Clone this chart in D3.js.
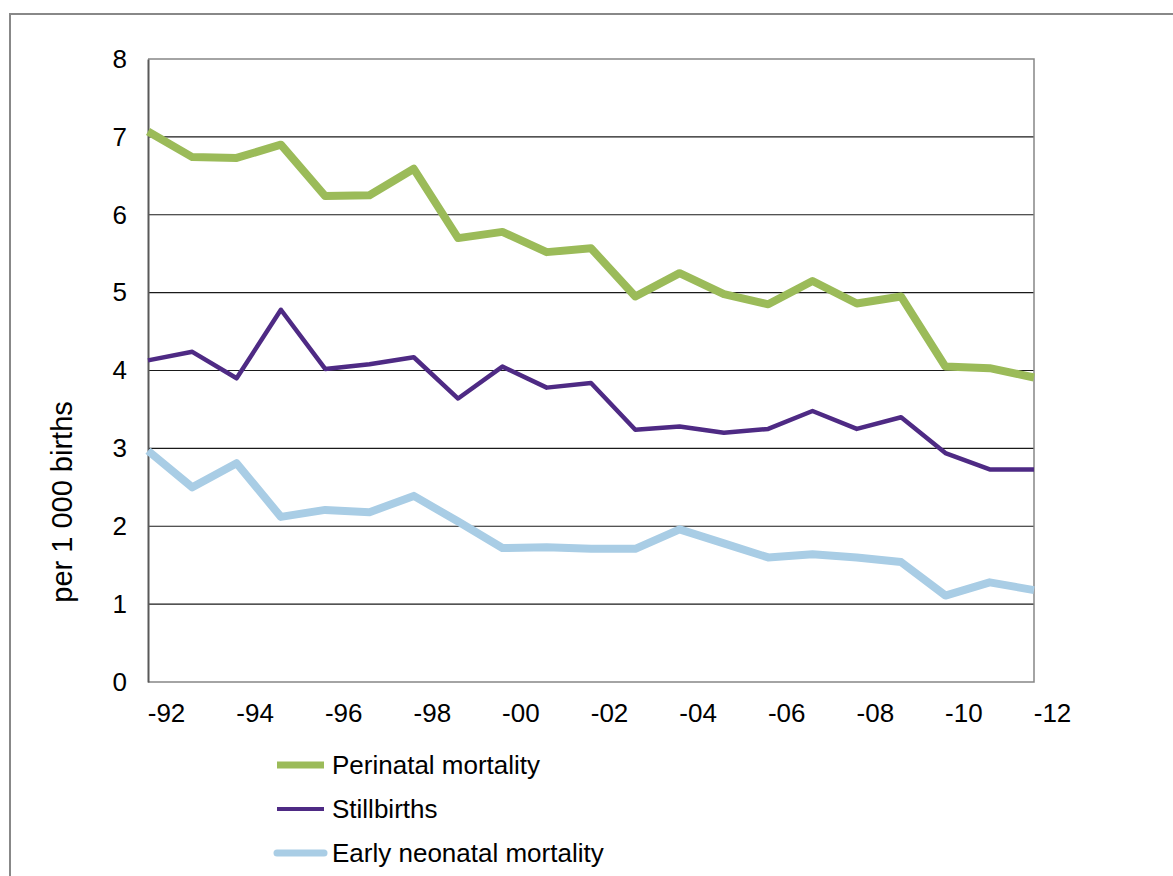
<!DOCTYPE html>
<html>
<head>
<meta charset="utf-8">
<script src="https://cdn.jsdelivr.net/npm/d3@7"></script>
<style>
  body { margin: 0; background: #fff; }
  svg { display: block; font-family: "Liberation Sans", Arial, sans-serif; }
</style>
</head>
<body>
<div id="chart"></div>
<script>
// data
const years = d3.range(1992, 2013);
const tickYears = [1992, 1994, 1996, 1998, 2000, 2002, 2004, 2006, 2008, 2010, 2012];
const tickLabels = ["-92", "-94", "-96", "-98", "-00", "-02", "-04", "-06", "-08", "-10", "-12"];
const yTicks = [0, 1, 2, 3, 4, 5, 6, 7, 8];

const perinatal = [7.07, 6.74, 6.73, 6.90, 6.24, 6.25, 6.59, 5.70, 5.78, 5.52, 5.57,
  4.95, 5.25, 4.98, 4.85, 5.15, 4.86, 4.95, 4.05, 4.03, 3.91];
const stillbirths = [4.13, 4.24, 3.90, 4.78, 4.02, 4.08, 4.17, 3.64, 4.05, 3.78, 3.84,
  3.24, 3.28, 3.20, 3.25, 3.48, 3.25, 3.40, 2.94, 2.73, 2.73];
const earlyNeonatal = [2.97, 2.50, 2.81, 2.12, 2.21, 2.18, 2.39, 2.06, 1.72, 1.73, 1.71,
  1.71, 1.96, 1.78, 1.60, 1.64, 1.60, 1.54, 1.11, 1.28, 1.18];

const series = [
  { name: "Perinatal mortality", values: perinatal, color: "#9BBB59", width: 8 },
  { name: "Stillbirths", values: stillbirths, color: "#4E2A84", width: 4.5 },
  { name: "Early neonatal mortality", values: earlyNeonatal, color: "#A9CDE5", width: 8 }
];

const W = 1173, H = 876;
const plot = { left: 148, right: 1034, top: 59, bottom: 682 };
const fontSize = 26;

const svg = d3.select("#chart").append("svg")
  .attr("width", W)
  .attr("height", H);

// outer chart frame (runs off the right and bottom edges)
svg.append("path")
  .attr("d", `M10,${H + 5} L10,14 L${W + 5},14`)
  .attr("fill", "none")
  .attr("stroke", "#888")
  .attr("stroke-width", 2);

const x = d3.scaleLinear().domain([1992, 2012]).range([plot.left, plot.right]);
const y = d3.scaleLinear().domain([0, 8]).range([plot.bottom, plot.top]);

// gridlines
svg.append("g")
  .selectAll("line")
  .data(yTicks.filter(d => d > 0 && d < 8))
  .join("line")
  .attr("x1", plot.left).attr("x2", plot.right)
  .attr("y1", d => y(d)).attr("y2", d => y(d))
  .attr("stroke", "#1a1a1a")
  .attr("stroke-width", 1.2);

// plot border top/right/bottom
svg.append("path")
  .attr("d", `M${plot.left},${plot.top} L${plot.right},${plot.top} L${plot.right},${plot.bottom} L${plot.left},${plot.bottom}`)
  .attr("fill", "none")
  .attr("stroke", "#868686")
  .attr("stroke-width", 1.5);

// y axis
const yAxis = svg.append("g")
  .attr("transform", `translate(${plot.left},0)`)
  .call(d3.axisLeft(y).tickValues(yTicks).tickSize(0).tickPadding(21).tickFormat(d3.format("d")));
yAxis.select(".domain").attr("stroke", "#595959").attr("stroke-width", 2);
yAxis.selectAll("text").attr("font-size", fontSize).attr("fill", "#000")
  .attr("font-family", "Liberation Sans, Arial, sans-serif");

// x axis labels (Excel draws them shifted right of the points)
const xAxis = svg.append("g")
  .attr("transform", `translate(18,${plot.bottom})`)
  .call(d3.axisBottom(x).tickValues(tickYears).tickSize(0).tickPadding(22)
    .tickFormat((d, i) => tickLabels[i]));
xAxis.select(".domain").remove();
xAxis.selectAll("text").attr("font-size", fontSize).attr("fill", "#000")
  .attr("font-family", "Liberation Sans, Arial, sans-serif");

// y title
svg.append("text")
  .attr("transform", "translate(62,502) rotate(-90)")
  .attr("text-anchor", "middle")
  .attr("dy", "0.35em")
  .attr("font-size", 29)
  .attr("fill", "#000")
  .text("per 1 000 births");

// lines
const line = d3.line()
  .x((d, i) => x(years[i]))
  .y(d => y(d));

svg.append("g")
  .selectAll("path")
  .data(series)
  .join("path")
  .attr("d", d => line(d.values))
  .attr("fill", "none")
  .attr("stroke", d => d.color)
  .attr("stroke-width", d => d.width)
  .attr("stroke-linejoin", "round");

// legend
const legend = svg.append("g")
  .selectAll("g")
  .data(series)
  .join("g")
  .attr("transform", (d, i) => `translate(277,${765 + i * 44})`);

legend.append("line")
  .attr("x1", 0).attr("x2", 47)
  .attr("stroke", d => d.color)
  .attr("stroke-width", d => d.width === 8 ? 7 : 4)
  .attr("stroke-linecap", (d, i) => i === 2 ? "round" : "butt");

legend.append("text")
  .attr("x", 55)
  .attr("dy", "0.35em")
  .attr("font-size", fontSize)
  .attr("fill", "#000")
  .text(d => d.name);
</script>
</body>
</html>
